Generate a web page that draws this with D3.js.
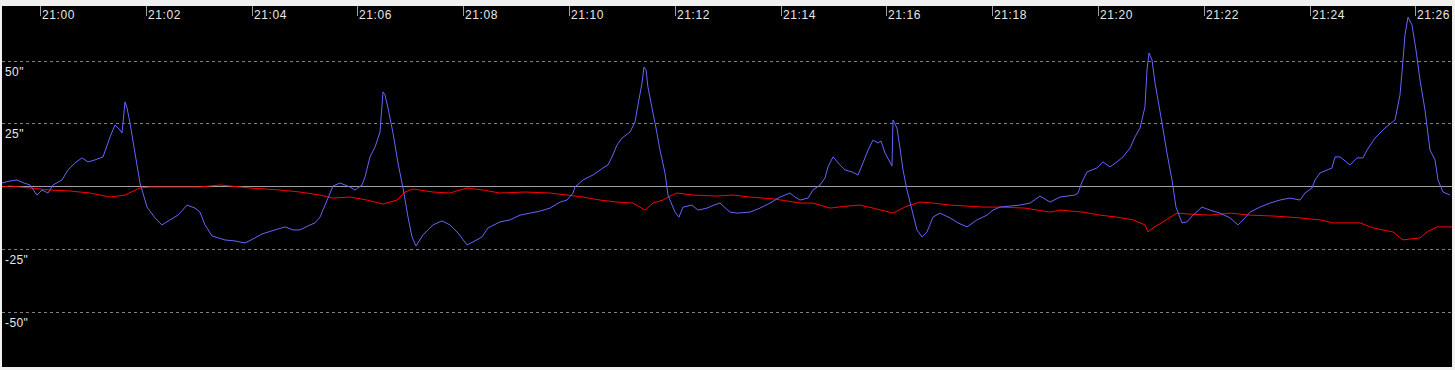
<!DOCTYPE html>
<html>
<head>
<meta charset="utf-8">
<script src="https://cdn.jsdelivr.net/npm/d3@7"></script>
<style>
html,body{margin:0;padding:0;background:#f0f0f0;}
svg{display:block;}
</style>
</head>
<body>
<svg id="chart" width="1455" height="370"></svg>
<script>
// Time ticks (HH:MM)
const timeTicks = ["21:00","21:02","21:04","21:06","21:08","21:10","21:12","21:14","21:16","21:18","21:20","21:22","21:24","21:26"];
// Y gridlines (arcseconds)
const yTicks = [50, 25, 0, -25, -50];
const yTickLabels = ['50"', '25"', '', '-25"', '-50"'];

// Blue series: minutes after 21:00 and values (arcsec)
const blueT = [-0.718,-0.567,-0.435,-0.302,-0.189,-0.057,0.038,0.151,0.246,0.416,0.529,0.662,0.794,0.907,1.040,1.191,1.323,1.418,1.512,1.550,1.607,1.645,1.701,1.796,1.890,2.023,2.174,2.306,2.457,2.609,2.779,2.930,3.025,3.119,3.251,3.497,3.686,3.875,4.064,4.197,4.442,4.631,4.783,4.915,5.066,5.198,5.293,5.444,5.539,5.671,5.860,5.955,6.087,6.144,6.238,6.333,6.427,6.484,6.522,6.578,6.673,6.767,6.862,6.957,7.032,7.108,7.240,7.429,7.599,7.750,7.902,8.072,8.185,8.355,8.469,8.696,8.885,9.074,9.263,9.452,9.641,9.830,9.962,10.076,10.113,10.265,10.454,10.643,10.737,10.813,10.907,11.002,11.153,11.248,11.304,11.380,11.418,11.456,11.493,11.569,11.645,11.720,11.815,11.871,12.004,12.079,12.155,12.325,12.439,12.609,12.741,12.854,13.043,13.176,13.422,13.611,13.800,13.989,14.178,14.272,14.367,14.518,14.612,14.745,14.839,14.896,14.991,15.123,15.217,15.350,15.463,15.558,15.652,15.747,15.841,15.898,15.974,16.106,16.125,16.200,16.257,16.314,16.389,16.484,16.578,16.673,16.767,16.881,17.013,17.202,17.353,17.524,17.713,17.902,18.015,18.147,18.336,18.526,18.715,18.904,19.093,19.282,19.565,19.622,19.698,19.792,19.981,20.094,20.227,20.359,20.473,20.605,20.699,20.794,20.888,20.926,20.964,21.021,21.078,21.134,21.210,21.304,21.399,21.474,21.588,21.682,21.796,21.966,22.117,22.306,22.495,22.647,22.779,22.873,23.062,23.251,23.440,23.629,23.819,23.913,24.045,24.102,24.197,24.424,24.480,24.575,24.764,24.896,25.009,25.085,25.236,25.425,25.614,25.709,25.766,25.803,25.860,25.936,26.011,26.087,26.181,26.276,26.371,26.427,26.522,26.654];
const blueV = [1.2,2.0,2.4,1.2,0.4,-3.6,-1.6,-2.8,0.4,2.4,6.4,9.2,11.2,9.6,10.4,11.6,19.5,24.3,22.3,21.1,33.5,31.1,25.1,13.1,1.2,-8.4,-12.7,-15.5,-13.5,-11.6,-7.6,-8.8,-10.4,-15.5,-19.9,-21.5,-21.9,-22.7,-20.7,-19.1,-17.5,-16.3,-17.5,-17.5,-15.9,-14.7,-12.4,-4.8,0,1.2,-0.4,-1.6,0.4,3.6,11.6,15.5,21.5,37.5,36.3,31.1,21.1,9.2,-0.8,-12.4,-20.3,-23.9,-19.5,-15.5,-13.9,-15.5,-18.7,-23.5,-22.3,-20.3,-16.7,-14.3,-13.5,-11.6,-10.8,-10.0,-8.8,-6.4,-5.6,-2.8,-0.4,2.4,4.4,7.2,8.4,11.6,16.3,19.1,21.5,25.5,32.3,41.0,47.4,46.2,39.4,31.1,23.1,14.3,5.2,-3.6,-10.4,-12.4,-8.4,-7.6,-9.6,-8.8,-7.6,-6.8,-10.4,-10.8,-10.4,-8.8,-6.8,-4.4,-2.8,-4.4,-5.6,-4.8,-1.6,0.4,3.2,7.6,11.6,8.4,6.4,5.6,4.4,9.2,14.3,18.3,17.1,17.9,13.1,8.0,26.3,23.1,15.1,6.4,-1.6,-9.6,-17.5,-20.3,-18.3,-12.4,-10.8,-12.7,-14.7,-16.3,-13.5,-11.6,-9.6,-8.4,-8.0,-7.6,-6.8,-4.0,-6.4,-4.4,-3.6,-2.8,1.6,5.6,7.2,9.6,7.6,9.6,11.6,15.1,19.5,23.1,31.5,46.2,53.0,50.2,41.0,34.3,25.1,13.1,2.4,-8.4,-14.7,-14.3,-11.6,-8.4,-9.6,-10.8,-12.7,-15.5,-12.7,-10.4,-8.4,-6.8,-5.6,-4.8,-5.6,-2.8,-0.8,2.4,5.2,7.2,11.6,11.6,8.4,11.2,11.2,14.3,19.1,23.1,26.3,36.3,50.2,60.2,67.3,64.1,54.2,42.2,30.3,14.3,10.4,2.4,-2.4,-3.6];

// Red series: minutes after 21:00 and values (arcsec)
const redT = [-0.718,-0.567,-0.189,0.189,0.567,0.945,1.323,1.607,1.890,2.079,2.552,3.025,3.403,3.970,4.537,4.915,5.293,5.539,5.860,6.181,6.484,6.749,6.900,7.051,7.429,7.750,8.072,8.374,8.696,9.168,9.641,9.962,10.265,10.586,10.907,11.210,11.437,11.588,11.777,11.909,12.042,12.344,12.798,13.100,13.422,13.894,14.367,14.612,14.934,15.255,15.501,15.747,16.125,16.389,16.635,16.881,17.202,17.524,17.826,18.147,18.620,19.093,19.282,19.716,20.038,20.359,20.662,20.888,20.945,21.040,21.229,21.493,21.739,22.117,22.495,22.873,23.346,23.819,24.197,24.442,24.953,25.198,25.576,25.766,25.898,26.087,26.219,26.408,26.692];
const redV = [-0.4,0,-0.8,-1.6,-2.0,-2.8,-4.4,-3.6,-0.8,-0.4,-0.4,-0.4,0.4,-0.8,-1.6,-2.4,-3.6,-4.8,-4.4,-5.6,-7.2,-5.6,-2.4,-1.2,-2.4,-2.8,-0.8,-1.6,-2.8,-2.4,-2.8,-3.6,-4.4,-5.6,-6.4,-6.8,-9.6,-6.8,-5.6,-4.0,-2.8,-3.6,-4.0,-3.6,-4.4,-5.2,-6.8,-6.8,-8.8,-8.0,-7.6,-8.8,-10.8,-8.0,-6.4,-6.8,-7.6,-8.0,-8.4,-8.4,-8.8,-10.4,-9.6,-10.4,-11.6,-12.4,-13.5,-15.5,-18.3,-16.7,-14.3,-10.8,-11.2,-11.6,-10.8,-11.6,-12.0,-12.7,-13.5,-14.7,-14.7,-16.7,-18.3,-21.5,-21.1,-20.7,-18.3,-16.3,-16.3];

const svg = d3.select("#chart");
const W = 1455, H = 370;
const plot = {left: 2, top: 6, right: 1452, bottom: 367};
const FONT = "Liberation Sans, Arial, sans-serif";

const base = new Date(2020, 0, 1, 21, 0, 0);
const toDate = m => new Date(base.getTime() + m * 60000);
const parseHM = s => { const [h, mm] = s.split(":").map(Number); return new Date(2020, 0, 1, h, mm, 0); };

const x = d3.scaleTime()
  .domain([parseHM(timeTicks[0]), parseHM(timeTicks[timeTicks.length - 1])])
  .range([40, 1415.4]);
const y = d3.scaleLinear().domain([-50, 50]).range([311.5, 60.5]);

// background
svg.append("rect").attr("x", 0).attr("y", 0).attr("width", W).attr("height", H).attr("fill", "#f0f0f0");
svg.append("rect").attr("x", plot.left).attr("y", plot.top)
  .attr("width", plot.right - plot.left).attr("height", plot.bottom - plot.top).attr("fill", "#000");

svg.append("clipPath").attr("id", "clip").append("rect")
  .attr("x", plot.left).attr("y", plot.top)
  .attr("width", plot.right - plot.left).attr("height", plot.bottom - plot.top);

// Horizontal gridlines
const grid = svg.append("g");
yTicks.forEach((v, i) => {
  const yy = Math.round(y(v)) + 0.5;
  grid.append("line")
    .attr("x1", plot.left).attr("x2", plot.right)
    .attr("y1", yy).attr("y2", yy)
    .attr("stroke", v === 0 ? "#a0a0a0" : "#808080")
    .attr("stroke-width", 1)
    .attr("stroke-dasharray", v === 0 ? null : "3,3")
    .attr("shape-rendering", "crispEdges");
  if (yTickLabels[i]) {
    grid.append("text")
      .attr("x", 5).attr("y", yy + 14)
      .attr("fill", "#e6e6e6")
      .attr("font-family", FONT)
      .attr("font-size", 12)
      .attr("letter-spacing", 0.4)
      .text(yTickLabels[i]);
  }
});

// Time axis ticks at top
const axis = svg.append("g");
timeTicks.forEach(lbl => {
  const xx = Math.round(x(parseHM(lbl))) + 0.5;
  axis.append("line")
    .attr("x1", xx).attr("x2", xx).attr("y1", plot.top).attr("y2", 16)
    .attr("stroke", "#a0a0a0").attr("shape-rendering", "crispEdges");
  axis.append("text")
    .attr("x", xx + 1.5).attr("y", 19)
    .attr("fill", "#e6e6e6")
    .attr("font-family", FONT)
    .attr("font-size", 12)
    .attr("letter-spacing", 0.6)
    .text(lbl);
});

const line = d3.line().x(d => x(toDate(d[0]))).y(d => y(d[1]));
const blue = blueT.map((t, i) => [t, blueV[i]]);
const red = redT.map((t, i) => [t, redV[i]]);

const lines = svg.append("g").attr("clip-path", "url(#clip)");
lines.append("path").datum(red).attr("d", line)
  .attr("fill", "none").attr("stroke", "#ff0000").attr("stroke-width", 1);
lines.append("path").datum(blue).attr("d", line)
  .attr("fill", "none").attr("stroke", "#6464ff").attr("stroke-width", 1);
</script>
</body>
</html>
